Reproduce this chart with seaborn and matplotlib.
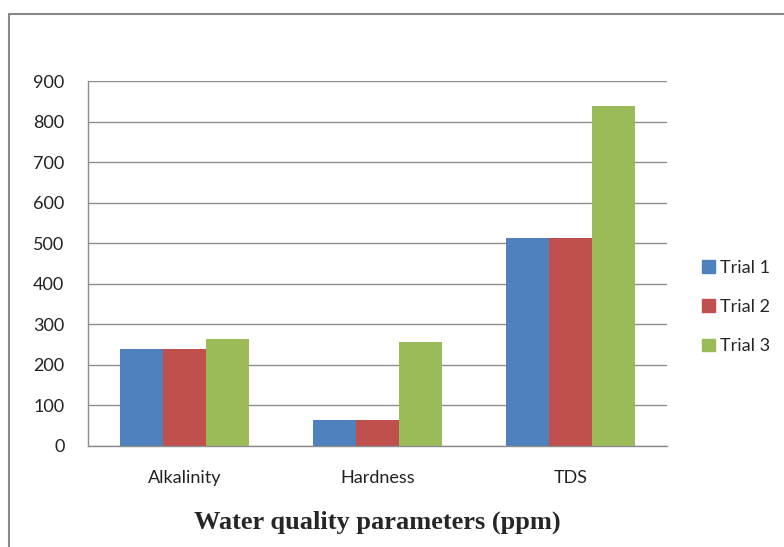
import matplotlib
matplotlib.use("Agg")
import matplotlib.pyplot as plt
import seaborn as sns
import pandas as pd
from matplotlib.lines import Line2D

categories = ["Alkalinity", "Hardness", "TDS"]
trials = ["Trial 1", "Trial 2", "Trial 3"]
trial1 = [240, 63, 512]
trial2 = [240, 63, 512]
trial3 = [263, 256, 838]
colors = ["#4F81BD", "#C0504D", "#9BBB59"]

rows = []
for t, vals in zip(trials, [trial1, trial2, trial3]):
    for c, v in zip(categories, vals):
        rows.append({"cat": c, "trial": t, "value": v})
df = pd.DataFrame(rows)

sns.set_style("white")
plt.rcParams['font.family'] = ['Lato', 'DejaVu Sans']

fig = plt.figure(figsize=(7.84, 5.47), dpi=100)
ax = fig.add_axes([88/784, 1-446/547, (667-88)/784, (446-81)/547])

sns.barplot(data=df, x="cat", y="value", hue="trial", palette=colors,
            width=0.67, ax=ax, saturation=1, edgecolor="none", gap=0)

ax.set_ylim(0, 900)
ax.set_xlim(-0.5, 2.5)
ax.set_yticks(range(0, 901, 100))
ax.yaxis.grid(True, color="#8c8c8c", linewidth=1)
ax.set_axisbelow(True)
for s in ["top", "right"]:
    ax.spines[s].set_visible(False)
for s in ["left", "bottom"]:
    ax.spines[s].set_color("#8c8c8c")
    ax.spines[s].set_linewidth(1)

ax.set_xticks([0, 1, 2])
ax.set_xticklabels(categories, fontsize=13, color="#222222")
ax.set_xticks([-0.5, 0.5, 1.5, 2.5], minor=True)
ax.tick_params(axis="x", which="major", length=0, pad=17)
ax.tick_params(axis="x", which="minor", length=6, color="#8c8c8c", width=1, direction="out")
ax.tick_params(axis="y", length=6, color="#8c8c8c", width=1, direction="out",
               labelsize=13, labelcolor="#222222", pad=11)
ax.set_ylabel("")
ax.set_xlabel("Water quality parameters (ppm)", fontsize=19, fontweight="bold",
              family=["Liberation Serif", "DejaVu Serif"], labelpad=18)

handles = [plt.Rectangle((0, 0), 1, 1, color=c) for c in colors]
ax.legend(handles, trials, loc="center left", bbox_to_anchor=(702/784, 1-307/547),
          bbox_transform=fig.transFigure, frameon=False, fontsize=13,
          handlelength=0.7, handleheight=0.7, handletextpad=0.3, labelspacing=1.3,
          borderpad=0, borderaxespad=0)

fig.add_artist(Line2D([8.5/784, 8.5/784], [0, 1-14/547], transform=fig.transFigure,
                      color="#888888", linewidth=1.5))
fig.add_artist(Line2D([8.5/784, 1], [1-14/547, 1-14/547], transform=fig.transFigure,
                      color="#888888", linewidth=1.5))

fig.savefig("out.png", dpi=100)
